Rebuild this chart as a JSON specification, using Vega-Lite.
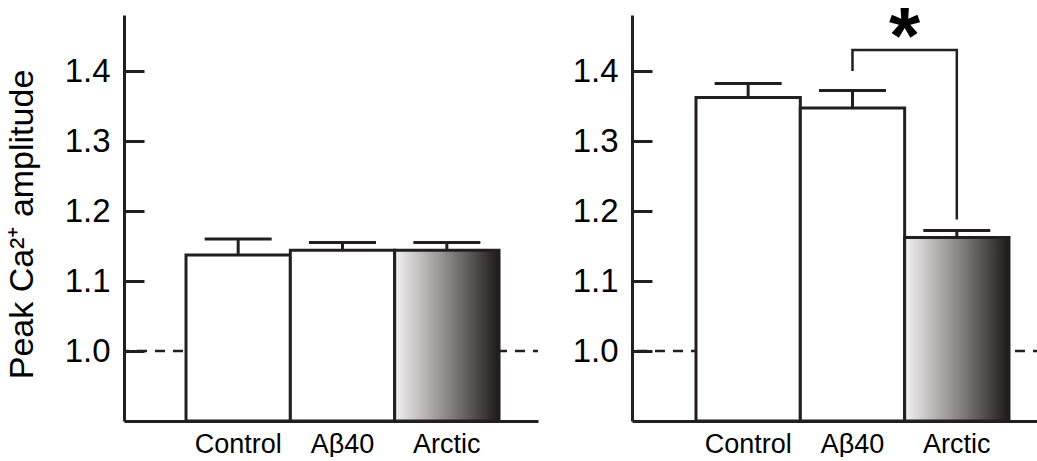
{
  "$schema": "https://vega.github.io/schema/vega-lite/v6.json",
  "padding": {"left": 5, "top": -2, "right": 0, "bottom": 0},
  "spacing": 32,
  "background": "white",
  "datasets": {
    "bars": [
      {"panel": "A", "group": "Control", "mean": 1.137, "upper": 1.16},
      {"panel": "A", "group": "Aβ40", "mean": 1.144, "upper": 1.155},
      {"panel": "A", "group": "Arctic", "mean": 1.144, "upper": 1.155},
      {"panel": "B", "group": "Control", "mean": 1.362, "upper": 1.382},
      {"panel": "B", "group": "Aβ40", "mean": 1.347, "upper": 1.372},
      {"panel": "B", "group": "Arctic", "mean": 1.162, "upper": 1.172}
    ],
    "bracket": [
      {"group": "Aβ40", "y": 1.4, "order": 1},
      {"group": "Aβ40", "y": 1.43, "order": 2},
      {"group": "Arctic", "y": 1.43, "order": 3},
      {"group": "Arctic", "y": 1.188, "order": 4}
    ],
    "star": [{"group": "Arctic", "y": 1.4119, "label": "*"}],
    "baseline": [{"y": 1.0}]
  },
  "config": {
    "view": {"stroke": null},
    "font": "Liberation Sans",
    "axisY": {
      "domainColor": "#231f20", "domainWidth": 3,
      "labelFontSize": 33, "labelColor": "#000000",
      "labelFont": "Liberation Sans",
      "titleFont": "Liberation Sans", "titleFontSize": 34, "titleFontWeight": "normal",
      "titleColor": "#000000", "titlePadding": 25
    },
    "axisX": {
      "domainColor": "#231f20", "domainWidth": 3, "ticks": false,
      "labelFontSize": 27, "labelColor": "#000000", "labelFont": "Liberation Sans",
      "labelPadding": 10, "labelAngle": 0, "title": null, "grid": false
    }
  },
  "hconcat": [
    {
      "width": 414,
      "height": 406,
      "resolve": {"axis": {"y": "independent"}},
      "layer": [
        {
          "data": {"name": "baseline"},
          "mark": {"type": "rule", "strokeDash": [10, 8], "strokeDashOffset": 5, "strokeWidth": 2.5, "color": "#231f20"},
          "encoding": {
            "y": {"field": "y", "type": "quantitative", "scale": {"domain": [0.9, 1.48], "zero": false, "nice": false},
                  "axis": {"orient": "left", "title": "Peak Ca²⁺ amplitude", "values": [1.0, 1.1, 1.2, 1.3, 1.4], "format": ".1f",
                           "titleY": 209, "ticks": false, "labelPadding": 14,
                           "grid": true, "gridColor": "#231f20", "gridWidth": 3, "gridOpacity": 1, "gridDash": [20, 2000]}}
          }
        },
        {
          "data": {"name": "bars"},
          "transform": [{"filter": "datum.panel === 'A' && datum.group !== 'Arctic'"}],
          "mark": {"type": "bar", "fill": "white", "stroke": "#231f20", "strokeWidth": 3},
          "encoding": {
            "x": {"field": "group", "type": "nominal",
                  "scale": {"domain": ["Control", "Aβ40", "Arctic"], "type": "band", "paddingInner": 0, "paddingOuter": 0.484, "align": 0.614}},
            "y": {"field": "mean", "type": "quantitative", "axis": null},
            "y2": {"datum": 0.9}
          }
        },
        {
          "data": {"name": "bars"},
          "transform": [{"filter": "datum.panel === 'A' && datum.group === 'Arctic'"}],
          "mark": {"type": "bar", "stroke": "#231f20", "strokeWidth": 3,
                   "fill": {"gradient": "linear", "x1": 0, "y1": 0, "x2": 1, "y2": 0,
                            "stops": [{"offset": 0, "color": "#f2f2f2"}, {"offset": 0.5, "color": "#8c8887"}, {"offset": 1, "color": "#1e1a1a"}]}},
          "encoding": {
            "x": {"field": "group", "type": "nominal"},
            "y": {"field": "mean", "type": "quantitative", "axis": null},
            "y2": {"datum": 0.9}
          }
        },
        {
          "data": {"name": "bars"},
          "transform": [{"filter": "datum.panel === 'A'"}],
          "mark": {"type": "rule", "strokeWidth": 3, "color": "#231f20"},
          "encoding": {
            "x": {"field": "group", "type": "nominal"},
            "y": {"field": "mean", "type": "quantitative", "axis": null},
            "y2": {"field": "upper"}
          }
        },
        {
          "data": {"name": "bars"},
          "transform": [{"filter": "datum.panel === 'A'"}],
          "mark": {"type": "tick", "size": 67, "thickness": 3, "color": "#231f20", "opacity": 1},
          "encoding": {
            "x": {"field": "group", "type": "nominal"},
            "y": {"field": "upper", "type": "quantitative", "axis": null}
          }
        }
      ]
    },
    {
      "width": 406,
      "height": 406,
      "resolve": {"axis": {"y": "independent"}},
      "layer": [
        {
          "data": {"name": "baseline"},
          "mark": {"type": "rule", "strokeDash": [10, 8], "strokeDashOffset": 5, "strokeWidth": 2.5, "color": "#231f20"},
          "encoding": {
            "y": {"field": "y", "type": "quantitative", "scale": {"domain": [0.9, 1.48], "zero": false, "nice": false},
                  "axis": {"orient": "left", "title": null, "values": [1.0, 1.1, 1.2, 1.3, 1.4], "format": ".1f", "ticks": false, "labelPadding": 14,
                           "grid": true, "gridColor": "#231f20", "gridWidth": 3, "gridOpacity": 1, "gridDash": [20, 2000]}}
          }
        },
        {
          "data": {"name": "bars"},
          "transform": [{"filter": "datum.panel === 'B' && datum.group !== 'Arctic'"}],
          "mark": {"type": "bar", "fill": "white", "stroke": "#231f20", "strokeWidth": 3},
          "encoding": {
            "x": {"field": "group", "type": "nominal",
                  "scale": {"domain": ["Control", "Aβ40", "Arctic"], "type": "band", "paddingInner": 0, "paddingOuter": 0.4457, "align": 0.688}},
            "y": {"field": "mean", "type": "quantitative", "axis": null},
            "y2": {"datum": 0.9}
          }
        },
        {
          "data": {"name": "bars"},
          "transform": [{"filter": "datum.panel === 'B' && datum.group === 'Arctic'"}],
          "mark": {"type": "bar", "stroke": "#231f20", "strokeWidth": 3,
                   "fill": {"gradient": "linear", "x1": 0, "y1": 0, "x2": 1, "y2": 0,
                            "stops": [{"offset": 0, "color": "#f2f2f2"}, {"offset": 0.5, "color": "#8c8887"}, {"offset": 1, "color": "#1e1a1a"}]}},
          "encoding": {
            "x": {"field": "group", "type": "nominal"},
            "y": {"field": "mean", "type": "quantitative", "axis": null},
            "y2": {"datum": 0.9}
          }
        },
        {
          "data": {"name": "bars"},
          "transform": [{"filter": "datum.panel === 'B'"}],
          "mark": {"type": "rule", "strokeWidth": 3, "color": "#231f20"},
          "encoding": {
            "x": {"field": "group", "type": "nominal"},
            "y": {"field": "mean", "type": "quantitative", "axis": null},
            "y2": {"field": "upper"}
          }
        },
        {
          "data": {"name": "bars"},
          "transform": [{"filter": "datum.panel === 'B'"}],
          "mark": {"type": "tick", "size": 67, "thickness": 3, "color": "#231f20", "opacity": 1},
          "encoding": {
            "x": {"field": "group", "type": "nominal"},
            "y": {"field": "upper", "type": "quantitative", "axis": null}
          }
        },
        {
          "data": {"name": "bracket"},
          "mark": {"type": "line", "strokeWidth": 2.5, "color": "#231f20"},
          "encoding": {
            "x": {"field": "group", "type": "nominal"},
            "y": {"field": "y", "type": "quantitative", "axis": null},
            "order": {"field": "order", "type": "quantitative"}
          }
        },
        {
          "data": {"name": "star"},
          "mark": {"type": "text", "fontSize": 80, "fontWeight": "bold", "font": "Liberation Sans", "align": "center", "baseline": "alphabetic", "color": "#000000"},
          "encoding": {
            "x": {"field": "group", "type": "nominal", "bandPosition": 0},
            "y": {"field": "y", "type": "quantitative", "axis": null},
            "text": {"field": "label"}
          }
        }
      ]
    }
  ]
}
